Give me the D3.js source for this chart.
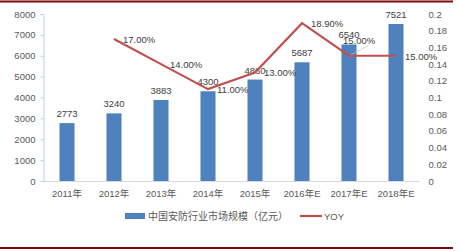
<!DOCTYPE html>
<html>
<head>
<meta charset="utf-8">
<script src="https://cdn.jsdelivr.net/npm/d3@7"></script>
<style>
  body { margin: 0; background: #fff; }
  svg text { font-family: "Liberation Sans", "Noto Sans CJK SC", sans-serif; }
</style>
</head>
<body>
<svg id="chart" width="461" height="251"></svg>
<script>
// chart data
var years = ['2011年', '2012年', '2013年', '2014年', '2015年', '2016年E', '2017年E', '2018年E'];
var marketSize = [2773, 3240, 3883, 4300, 4860, 5687, 6540, 7521];
// yoy starts at 2012
var yoyYears = ['2012年', '2013年', '2014年', '2015年', '2016年E', '2017年E', '2018年E'];
var yoyValues = [0.17, 0.14, 0.11, 0.13, 0.189, 0.15, 0.15];
var leftTicks = [0, 1000, 2000, 3000, 4000, 5000, 6000, 7000, 8000];
var rightTicks = [0, 0.02, 0.04, 0.06, 0.08, 0.1, 0.12, 0.14, 0.16, 0.18, 0.2];

var svg = d3.select('#chart');
// note: "top" is taken by window.top, so plot edges get a prefix
var plotLeft = 43.5, plotRight = 419.5, plotTop = 14, plotBottom = 181;
var barColor = '#4F81BD', lineColor = '#C0504D', textColor = '#595959';

// dark red frame lines
svg.append('line').attr('x1', 0).attr('x2', 453).attr('y1', 1.5).attr('y2', 1.5)
  .attr('stroke', '#7B0A0A').attr('stroke-width', 2);
svg.append('line').attr('x1', 0).attr('x2', 453).attr('y1', 248).attr('y2', 248)
  .attr('stroke', '#7B0A0A').attr('stroke-width', 2);

var x = d3.scaleBand().domain(years).range([plotLeft, plotRight]).paddingInner(0.68).paddingOuter(0.34);
var y = d3.scaleLinear().domain([0, 8000]).range([plotBottom, plotTop]);
var y2 = d3.scaleLinear().domain([0, 0.2]).range([plotBottom, plotTop]);

// left axis
var yAxis = svg.append('g').attr('transform', 'translate(' + plotLeft + ',0)')
  .call(d3.axisLeft(y).tickValues(leftTicks).tickSize(3).tickPadding(5).tickFormat(d3.format('d')));
yAxis.select('.domain').attr('stroke', '#BDD0EA');
yAxis.selectAll('.tick line').attr('stroke', '#BDD0EA');
yAxis.selectAll('text').attr('fill', textColor).attr('font-size', 9.5);

// right axis, labels only
var y2Axis = svg.append('g').attr('transform', 'translate(' + (plotRight + 8) + ',0)')
  .call(d3.axisRight(y2).tickValues(rightTicks).tickSize(0).tickPadding(1)
    .tickFormat(function(d) { return d3.format('~g')(d); }));
y2Axis.select('.domain').remove();
y2Axis.selectAll('text').attr('fill', textColor).attr('font-size', 9.5);

// bottom axis
var xAxis = svg.append('g').attr('transform', 'translate(0,' + plotBottom + ')')
  .call(d3.axisBottom(x).tickSize(0).tickPadding(9));
xAxis.select('.domain').attr('stroke', '#D9D9D9');
xAxis.selectAll('text').attr('fill', textColor).attr('font-size', 9.5);

// bars
svg.selectAll('rect.bar').data(marketSize).enter().append('rect')
  .attr('class', 'bar')
  .attr('x', function(d, i) { return x(years[i]); })
  .attr('width', x.bandwidth())
  .attr('y', function(d) { return y(d); })
  .attr('height', function(d) { return plotBottom - y(d); })
  .attr('fill', barColor);

svg.selectAll('text.barLabel').data(marketSize).enter().append('text')
  .attr('class', 'barLabel')
  .attr('x', function(d, i) { return x(years[i]) + x.bandwidth() / 2; })
  .attr('y', function(d) { return y(d) - 6; })
  .attr('text-anchor', 'middle')
  .attr('font-size', 9.5)
  .attr('fill', '#404040')
  .text(function(d) { return d; });

// yoy line
var cx = function(i) { return x(yoyYears[i]) + x.bandwidth() / 2; };
var line = d3.line()
  .x(function(d, i) { return cx(i); })
  .y(function(d) { return y2(d); });
svg.append('path').datum(yoyValues)
  .attr('d', line)
  .attr('fill', 'none')
  .attr('stroke', lineColor)
  .attr('stroke-width', 2.2);

// leader line for the 2017 label
svg.append('line')
  .attr('x1', cx(5) + 2).attr('y1', y2(yoyValues[5]) - 1)
  .attr('x2', cx(5) + 19).attr('y2', y2(yoyValues[5]) - 10)
  .attr('stroke', '#BFBFBF').attr('stroke-width', 0.7);

svg.selectAll('text.yoyLabel').data(yoyValues).enter().append('text')
  .attr('class', 'yoyLabel')
  .attr('x', function(d, i) { return i == 5 ? cx(i) - 6 : cx(i) + 9; })
  .attr('y', function(d, i) { return i == 5 ? y2(d) - 12 : y2(d) + 4; })
  .attr('font-size', 9.5)
  .attr('fill', '#404040')
  .text(function(d) { return d3.format('.2%')(d); });

// legend
var legend = svg.append('g').attr('transform', 'translate(0,216)');
legend.append('rect').attr('x', 125).attr('y', -3).attr('width', 20).attr('height', 6).attr('fill', barColor);
legend.append('text').attr('x', 148).attr('y', 4).attr('font-size', 10).attr('fill', textColor)
  .text('中国安防行业市场规模（亿元）');
legend.append('line').attr('x1', 300).attr('x2', 322).attr('y1', 0).attr('y2', 0)
  .attr('stroke', lineColor).attr('stroke-width', 2.2);
legend.append('text').attr('x', 324).attr('y', 4).attr('font-size', 9.5).attr('fill', textColor)
  .text('YOY');
</script>
</body>
</html>
